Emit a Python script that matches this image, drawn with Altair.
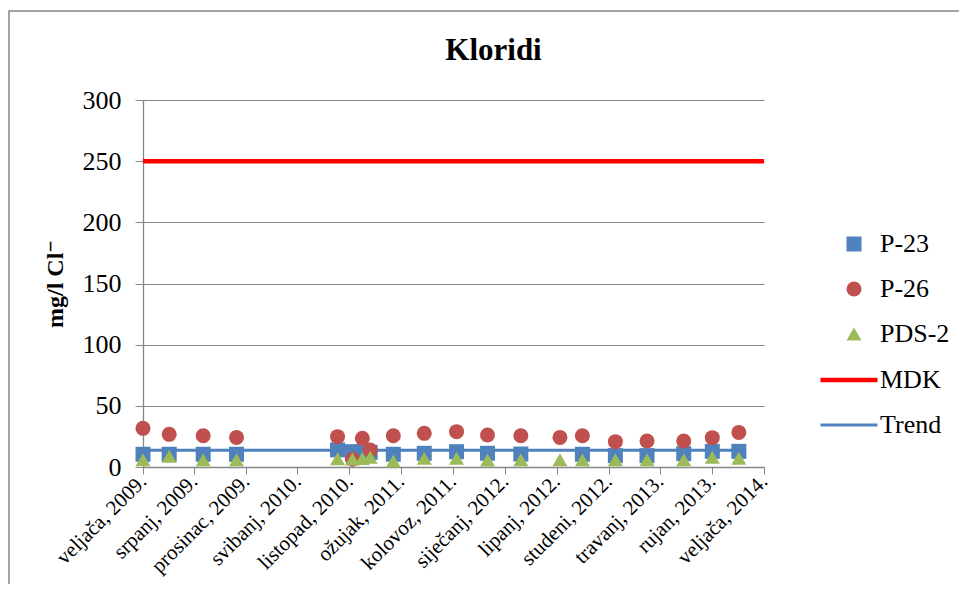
import altair as alt
import pandas as pd

# ---- data ----
dates = ["2009-02-01", "2009-04-19", "2009-07-28", "2009-11-03", "2010-08-27",
         "2010-10-10", "2010-11-08", "2010-12-01", "2011-02-07", "2011-05-09",
         "2011-08-12", "2011-11-11", "2012-02-17", "2012-06-11", "2012-08-16",
         "2012-11-21", "2013-02-22", "2013-06-10", "2013-09-02", "2013-11-19"]
p23 = [10.4, 10.4, 10.4, 10.4, 14.0, 12.5, 12.5, 12.0, 10.4, 11.2,
       12.5, 11.2, 10.6, None, 10.4, 9.3, 9.3, 10.9, 12.8, 12.8]
p26 = [31.6, 26.7, 25.6, 24.2, 24.8, 6.3, 23.4, 13.9, 25.6, 27.5,
       28.9, 26.2, 25.6, 24.2, 25.6, 20.7, 21.3, 21.3, 24.0, 28.3]
pds2 = [5.9, 8.7, 5.9, 5.9, 6.8, 6.5, 7.0, 8.0, 5.0, 7.1,
        7.1, 5.7, 6.0, 6.0, 6.0, 6.0, 6.0, 6.0, 7.9, 7.1]

series_names = ["P-23", "P-26", "PDS-2"]
series_colors = ["#4F81BD", "#C0504D", "#9BBB59"]
series_shapes = ["square", "circle", "triangle-up"]

mdk_dates = ["2009-02-01", "2014-02-01"]
mdk_values = [250, 250]
trend_dates = ["2009-02-01", "2013-11-19"]
trend_values = [13.7, 13.7]
line_names = ["MDK", "Trend"]
line_colors = ["#FF0000", "#4F81BD"]
line_widths = [4.5, 3]

tick_dates = ["2009-02-01", "2009-07-01", "2009-12-01", "2010-05-01", "2010-10-01",
              "2011-03-01", "2011-08-01", "2012-01-01", "2012-06-01", "2012-11-01",
              "2013-04-01", "2013-09-01", "2014-02-01"]
month_names = ["siječanj", "veljača", "ožujak", "travanj", "svibanj", "lipanj",
               "srpanj", "kolovoz", "rujan", "listopad", "studeni", "prosinac"]
y_ticks = [0, 50, 100, 150, 200, 250, 300]
chart_title = "Kloridi"
y_title = "mg/l Cl⁻"

# ---- tables ----
rows = []
for name, vals in zip(series_names, [p23, p26, pds2]):
    for d, v in zip(dates, vals):
        if v is not None:
            rows.append({"date": d, "value": v, "series": name})
pts = pd.DataFrame(rows)

lrows = []
for name, ds, vs in [("MDK", mdk_dates, mdk_values), ("Trend", trend_dates, trend_values)]:
    for d, v in zip(ds, vs):
        lrows.append({"date": d, "value": v, "line": name})
lines = pd.DataFrame(lrows)


def dt(s):
    y, m, d = [int(p) for p in s.split("-")]
    return alt.DateTime(year=y, month=m, date=d, utc=True)


FONT = "'Liberation Serif', 'Times New Roman', 'DejaVu Serif', serif"
GRAY = "#868686"

month_js = "[" + ",".join("'" + m + "'" for m in month_names) + "]"
label_expr = month_js + "[utcmonth(datum.value)] + ', ' + utcyear(datum.value) + '.'"

x_enc = alt.X(
    "date:T",
    scale=alt.Scale(type="utc", domain=[dt("2009-02-01"), dt("2014-02-01")]),
    axis=alt.Axis(values=[dt(t) for t in tick_dates], labelExpr=label_expr,
                  labelAngle=-45, labelAlign="right", labelBaseline="middle",
                  labelFont=FONT, labelFontSize=21, labelPadding=4, tickSize=7,
                  grid=False, title=None, labelOverlap=False, labelBound=False,
                  labelFlush=False),
)
y_enc = alt.Y(
    "value:Q",
    scale=alt.Scale(domain=[0, 300], nice=False),
    axis=alt.Axis(values=y_ticks, grid=True, tickSize=8, labelPadding=14,
                  labelFont=FONT, labelFontSize=26, title=y_title, titleFont=FONT,
                  titleFontSize=24, titleFontWeight="bold", titleX=-88, titleY=183.5,
                  titleBaseline="middle", titleAngle=-90),
)

legend_pts = alt.Legend(title=None, orient="none", legendX=698, legendY=131,
                        labelFont=FONT, labelFontSize=26, labelColor="black",
                        symbolSize=225, labelOffset=13, rowPadding=19, padding=0,
                        symbolStrokeWidth=0, symbolOpacity=1)
legend_lines = alt.Legend(title=None, orient="none", legendX=675, legendY=249,
                          labelFont=FONT, labelFontSize=26, labelColor="black",
                          symbolType="stroke", symbolSize=3249, labelOffset=0,
                          rowPadding=2, padding=0)

border = alt.Chart(pd.DataFrame({"a": [0]})).mark_rect(
    fill="transparent", stroke=GRAY, strokeWidth=1.5
).encode(x=alt.value(-134), y=alt.value(-89), x2=alt.value(900), y2=alt.value(700))

title_layer = alt.Chart(pd.DataFrame({"t": [chart_title]})).mark_text(
    font=FONT, fontSize=31, fontWeight="bold", color="black",
    align="center", baseline="alphabetic"
).encode(text="t:N", x=alt.value(350.5), y=alt.value(-40))

line_layer = alt.Chart(lines).mark_line().encode(
    x=x_enc, y=y_enc,
    stroke=alt.Stroke("line:N", scale=alt.Scale(domain=line_names, range=line_colors),
                      legend=legend_lines),
    strokeWidth=alt.StrokeWidth("line:N", scale=alt.Scale(domain=line_names, range=line_widths),
                                legend=legend_lines),
    detail="line:N",
)

point_layer = alt.Chart(pts).mark_point(filled=True, size=225, opacity=1).encode(
    x=x_enc, y=y_enc,
    color=alt.Color("series:N", scale=alt.Scale(domain=series_names, range=series_colors),
                    legend=legend_pts),
    shape=alt.Shape("series:N", scale=alt.Scale(domain=series_names, range=series_shapes),
                    legend=legend_pts),
)

chart = alt.layer(border, title_layer, line_layer, point_layer).properties(
    width=621, height=367,
    autosize=alt.AutoSizeParams(type="none"),
    padding={"left": 135, "top": 92, "right": 195, "bottom": 117},
).configure(
    font=FONT,
    background="white",
).configure_view(
    stroke=None
).configure_axis(
    labelFont=FONT, titleFont=FONT, labelColor="black", titleColor="black",
    domainColor=GRAY, tickColor=GRAY, gridColor=GRAY, domainWidth=1.3, gridWidth=1,
).configure_legend(
    labelFont=FONT
)

chart.save("out.html", embed_options={"renderer": "svg", "actions": False})
